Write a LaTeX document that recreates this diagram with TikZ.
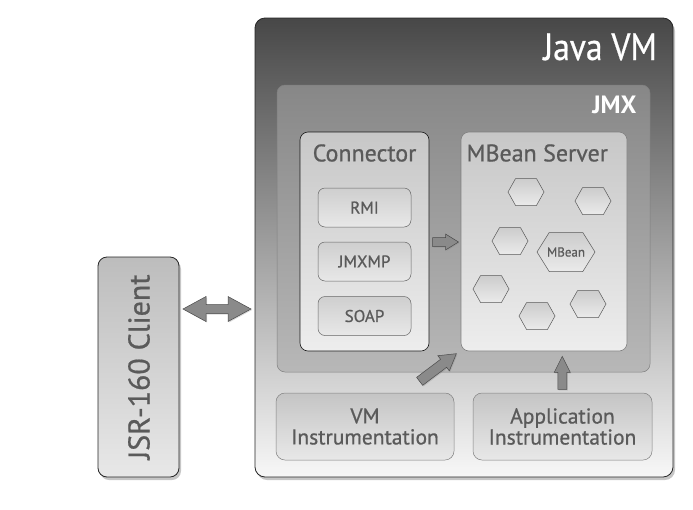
\documentclass[tikz,border=0pt]{standalone}
\usepackage{fontspec}
\setmainfont[FakeBold=0.7]{PT Sans}
\newfontfamily\boldface{PT Sans Bold}
\usetikzlibrary{shadows,calc}
\definecolor{txt}{HTML}{5A5A5A}
\definecolor{arrowfill}{HTML}{8A8A8A}
\definecolor{arrowdraw}{HTML}{4A4A4A}
\tikzset{
  jvmbox/.style={draw=black!85,line width=0.8pt,rounded corners=10pt,top color=black!72,bottom color=black!3,
    drop shadow={shadow xshift=2pt,shadow yshift=-3pt,opacity=0.45}},
  jmxbox/.style={draw=black!50,line width=0.5pt,rounded corners=8pt,top color=black!47,bottom color=black!28},
  panel/.style={line width=0.6pt,rounded corners=8pt,top color=black!22,bottom color=black!7},
  subbox/.style={draw=black!60,line width=0.5pt,rounded corners=7pt,top color=black!19,bottom color=black!9,
    font=\fontsize{17}{19}\selectfont,text=txt},
  instbox/.style={draw=black!50,line width=0.5pt,rounded corners=9pt,top color=black!23,bottom color=black!9,
    font=\fontsize{21.5}{24}\selectfont,text=txt,align=center},
  hexa/.style={draw=black!65,line width=0.5pt,top color=black!20,bottom color=black!8},
  blockarrow/.style={draw=arrowdraw,fill=arrowfill,line width=0.5pt,line join=miter,
    drop shadow={shadow xshift=1pt,shadow yshift=-1pt,opacity=0.3}},
}
% single block arrow: center, angle, length, head length, head half width, shaft half width
\newcommand{\singlearrow}[6]{%
  \begin{scope}[shift={(#1)},rotate=#2]
  \path[blockarrow] (-#3pt/2,#6pt) -- (#3pt/2-#4pt,#6pt) -- (#3pt/2-#4pt,#5pt) -- (#3pt/2,0pt)
     -- (#3pt/2-#4pt,-#5pt) -- (#3pt/2-#4pt,-#6pt) -- (-#3pt/2,-#6pt) -- cycle;
  \end{scope}}
\newcommand{\doublearrow}[6]{%
  \begin{scope}[shift={(#1)},rotate=#2]
  \path[blockarrow] (-#3pt/2,0pt) -- (-#3pt/2+#4pt,#5pt) -- (-#3pt/2+#4pt,#6pt) -- (#3pt/2-#4pt,#6pt) -- (#3pt/2-#4pt,#5pt) -- (#3pt/2,0pt)
     -- (#3pt/2-#4pt,-#5pt) -- (#3pt/2-#4pt,-#6pt) -- (-#3pt/2+#4pt,-#6pt) -- (-#3pt/2+#4pt,-#5pt) -- cycle;
  \end{scope}}
\newcommand{\hexpath}[4]{% center x, y, half width, half height
  \path[hexa] (#1-#3,#2) -- (#1-0.58*#3,#2-#4) -- (#1+0.58*#3,#2-#4) -- (#1+#3,#2) -- (#1+0.58*#3,#2+#4) -- (#1-0.58*#3,#2+#4) -- cycle;}
\begin{document}
\begin{tikzpicture}[x=1pt,y=-1pt]
\useasboundingbox (0,0) rectangle (693,509);
% Java VM
\path[jvmbox] (255,18) rectangle (673,477);
\node[anchor=base east,text=white,font=\fontsize{38}{40}\selectfont,xscale=0.88] (jvmlabel) at (660,60) {Java VM};
% JMX
\path[jmxbox] (277,85) rectangle (650,372);
\node[anchor=base east,text=white,font=\fontsize{25}{26}\boldface] (jmxlabel) at (640,113) {JMX};
% Connector panel
\path[panel,draw=black!90] (300,132) rectangle (429,351);
\node[text=txt,font=\fontsize{24}{26}\selectfont] (connlabel) at (364.5,153) {Connector};
\coordinate (conneast) at (429,242);
% MBean Server panel
\path[panel,draw=black!50] (461,132) rectangle (627,351);
\node[anchor=west,text=txt,font=\fontsize{24}{26}\selectfont] (mbslabel) at (463,153) {MBean Server};
\coordinate (mbswest) at (461,242);
\coordinate (mbsbottom) at (562,353);
% connector protocols
\node[subbox,minimum width=93pt,minimum height=39pt] (rmi) at (364.5,207.5) {RMI};
\node[subbox,minimum width=93pt,minimum height=39pt] (jmxmp) at (364.5,261.5) {JMXMP};
\node[subbox,minimum width=93pt,minimum height=39pt] (soap) at (364.5,316) {SOAP};
% MBeans
\hexpath{526}{192}{18}{13.5}
\hexpath{593}{201}{18}{13.5}
\hexpath{510}{241}{18}{13.5}
\hexpath{566}{252}{29}{19.5}
\node[text=txt,font=\fontsize{13}{14}\selectfont] (mbean) at (566,252) {MBean};
\hexpath{491}{289}{18}{13.5}
\hexpath{537}{316}{18}{13.5}
\hexpath{588}{304}{18}{13.5}
% instrumentation
\node[instbox,minimum width=178pt,minimum height=67pt] (vmi) at (365,426.5) {VM\\[-3pt]Instrumentation};
\node[instbox,minimum width=179pt,minimum height=67pt] (appi) at (562.5,426.5) {Application\\[-3pt]Instrumentation};
% client
\path[draw=black!85,line width=0.8pt,rounded corners=9pt,top color=black!26,bottom color=black!9,
  drop shadow={shadow xshift=2pt,shadow yshift=-3pt,opacity=0.45}] (98,257) rectangle (179,477);
\node[rotate=90,text=txt,font=\fontsize{30}{32}\selectfont] (client) at (139,367) {JSR-160 Client};
\coordinate (clienteast) at (183,309);
\coordinate (jvmwest) at (251,309);
% arrows
\doublearrow{$(clienteast)!0.5!(jvmwest)$}{0}{68}{23}{12.5}{4.5}
\singlearrow{$(conneast)!0.5!(mbswest)+(0.5,0)$}{0}{26}{13}{8}{4.5}
\singlearrow{438,367.5}{37}{46}{16}{9.5}{5}
\singlearrow{$(appi.north)!0.5!(mbsbottom)$}{90}{33}{16}{8}{4.5}
\end{tikzpicture}
\end{document}
